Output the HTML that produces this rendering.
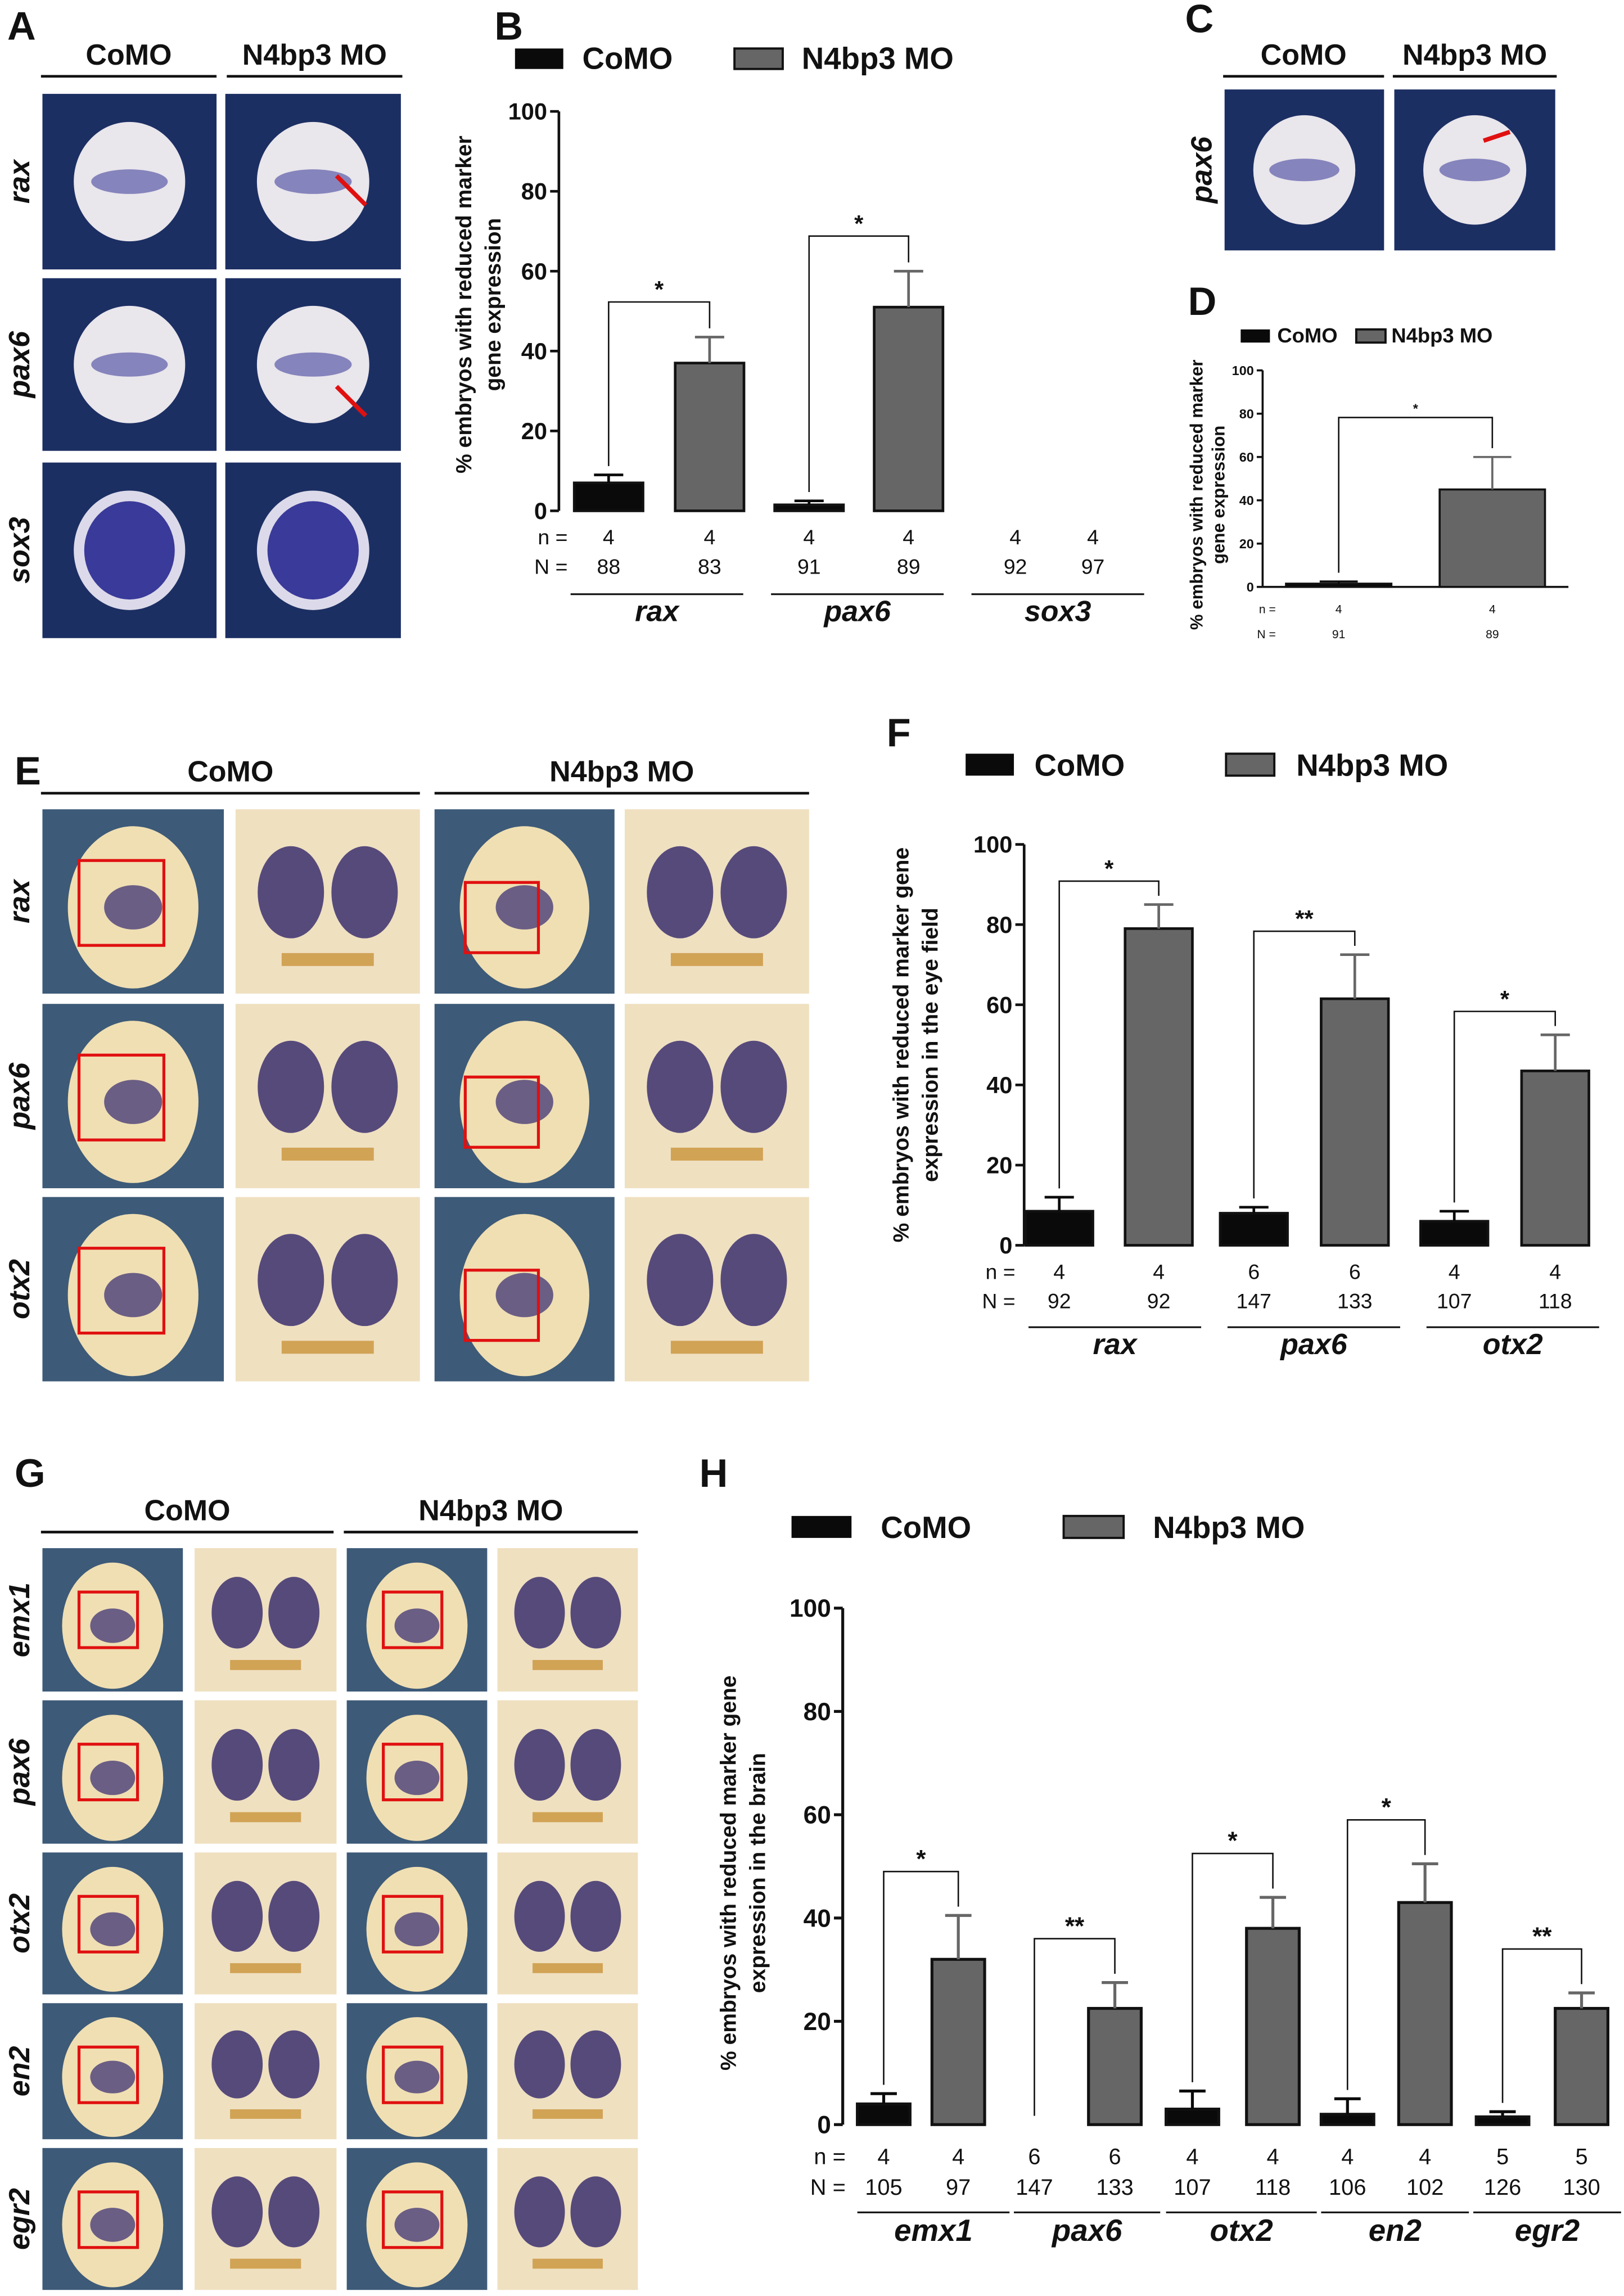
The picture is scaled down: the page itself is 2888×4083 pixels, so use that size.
<!DOCTYPE html>
<html><head><meta charset="utf-8"><style>
html,body{margin:0;padding:0;background:#fff;}
svg{display:block;font-family:"Liberation Sans",Arial,sans-serif;}
</style></head><body>
<svg id="fig" width="2888" height="4083" viewBox="0 0 1110 1569" xmlns="http://www.w3.org/2000/svg">
<rect x="0" y="0" width="1110" height="1569" fill="#fff"/>
</svg>
<script>
// ---------- Chart B data ----------
const bCats = ['rax','pax6','sox3'];
const bComo = [7, 1.5, 0];
const bComoErr = [9, 2.5, 0];
const bN4 = [37, 51, 0];
const bN4Err = [43.5, 60, 0];
const bSmallN = ['4','4','4','4','4','4'];
const bBigN = ['88','83','91','89','92','97'];
const bSig = ['*','*',''];
// ---------- Chart D data ----------
const dCats = ['pax6'];
const dComo = [1.5];
const dComoErr = [2.5];
const dN4 = [45];
const dN4Err = [60];
const dSmallN = ['4','4'];
const dBigN = ['91','89'];
const dSig = ['*'];
// ---------- Chart F data ----------
const fCats = ['rax','pax6','otx2'];
const fComo = [8.5, 8, 6];
const fComoErr = [12, 9.5, 8.5];
const fN4 = [79, 61.5, 43.5];
const fN4Err = [85, 72.5, 52.5];
const fSmallN = ['4','4','6','6','4','4'];
const fBigN = ['92','92','147','133','107','118'];
const fSig = ['*','**','*'];
// ---------- Chart H data ----------
const hCats = ['emx1','pax6','otx2','en2','egr2'];
const hComo = [4, 0, 3, 2, 1.5];
const hComoErr = [6, 0, 6.5, 5, 2.5];
const hN4 = [32, 22.5, 38, 43, 22.5];
const hN4Err = [40.5, 27.5, 44, 50.5, 25.5];
const hSmallN = ['4','4','6','6','4','4','4','4','5','5'];
const hBigN = ['105','97','147','133','107','118','106','102','126','130'];
const hSig = ['*','**','*','*','**'];
const yTicks = ['0','20','40','60','80','100'];

const NS='http://www.w3.org/2000/svg';
const svg=document.getElementById('fig');
function mk(tag,attrs,parent,text){
  const e=document.createElementNS(NS,tag);
  for(const k in attrs)e.setAttribute(k,attrs[k]);
  if(text!==undefined)e.textContent=text;
  (parent||svg).appendChild(e);return e;
}
function txt(x,y,s,size,opts,parent){
  opts=opts||{};
  const e=mk('text',{x:x,y:y,'font-size':size,'font-weight':opts.w||'bold','text-anchor':opts.a||'middle','font-style':opts.i?'italic':'normal',fill:opts.f||'#111'},parent,s);
  if(opts.rot)e.setAttribute('transform','rotate(-90 '+x+' '+y+')');
  
  
  return e;
}
function line(x1,y1,x2,y2,w,c,parent,name){
  const e=mk('line',{x1:x1,y1:y1,x2:x2,y2:y2,stroke:c||'#111','stroke-width':w||1.5},parent);
  
  
  return e;
}

function chart(cfg){
  const g=mk('g',{});
  
  
  const y=v=>cfg.y0-(v/100)*(cfg.y0-cfg.y100);
  line(cfg.ax,cfg.y100,cfg.ax,cfg.y0,cfg.lw,'#111',g,'y-axis');
  if(cfg.xEnd)line(cfg.ax,cfg.y0,cfg.xEnd,cfg.y0,cfg.lw,'#111',g,'x-axis');
  yTicks.forEach(t=>{
    const yy=y(+t);
    line(cfg.ax-cfg.tl,yy,cfg.ax,yy,cfg.lw,'#111',g,'y-tick');
    txt(cfg.ax-cfg.tl-2,yy+cfg.fs*0.35,t,cfg.fs,{a:'end',name:'y-tick-label'},g);
  });
  cfg.cats.forEach((c,i)=>{
    const c1=cfg.centers[2*i],c2=cfg.centers[2*i+1];
    [[c1,cfg.como[i],cfg.comoErr[i],'#0a0a0a','bar-como-'+c],[c2,cfg.n4[i],cfg.n4Err[i],'#666','bar-n4bp3-'+c]].forEach(b=>{
      if(b[1]>0){
        const r=mk('rect',{x:b[0]-cfg.bw/2,y:y(b[1]),width:cfg.bw,height:cfg.y0-y(b[1]),fill:b[3],stroke:'#111','stroke-width':cfg.lw},g);
        
        
        if(b[2]>b[1]){
          line(b[0],y(b[1]),b[0],y(b[2]),cfg.lw,b[3],g,'error-bar');
          line(b[0]-cfg.cap,y(b[2]),b[0]+cfg.cap,y(b[2]),cfg.lw,b[3],g,'error-cap');
        }
      }
    });
    if(cfg.sig[i]){
      const top=Math.max(cfg.comoErr[i],cfg.n4Err[i]);
      const by=y(top)-cfg.sigGap;
      const p=mk('polyline',{points:c1+','+(y(Math.max(cfg.comoErr[i],cfg.como[i]))-6)+' '+c1+','+by+' '+c2+','+by+' '+c2+','+(y(cfg.n4Err[i])-6),fill:'none',stroke:'#111','stroke-width':1},g);
      
      
      txt((c1+c2)/2,by-3,cfg.sig[i],cfg.fs,{name:'significance-star'},g);
    }
    if(cfg.groups[i]){
      line(cfg.groups[i][0],cfg.gy,cfg.groups[i][1],cfg.gy,1.2,'#111',g,'group-line');
      txt((cfg.groups[i][0]+cfg.groups[i][1])/2,cfg.gy+cfg.fs*1.15,c,cfg.fs+4,{i:true,name:'group-label'},g);
    }
  });
  txt(cfg.nx,cfg.ny,'n =',cfg.fs*0.9,{a:'end',w:'normal',name:'n-label'},g);
  txt(cfg.nx,cfg.Ny,'N =',cfg.fs*0.9,{a:'end',w:'normal',name:'N-label'},g);
  cfg.centers.forEach((c,i)=>{
    txt(c,cfg.ny,cfg.smallN[i],cfg.fs*0.9,{w:'normal',name:'n-value'},g);
    txt(c,cfg.Ny,cfg.bigN[i],cfg.fs*0.9,{w:'normal',name:'N-value'},g);
  });
  txt(cfg.tx1,cfg.ty,cfg.t1,cfg.tfs,{rot:true,name:'y-axis-title'},g);
  if(cfg.t2)txt(cfg.tx2,cfg.ty,cfg.t2,cfg.tfs,{rot:true,name:'y-axis-title'},g);
  const L=cfg.leg;
  const r1=mk('rect',{x:L[0],y:L[1],width:L[2],height:L[3],fill:'#0a0a0a'},g);
  
  
  txt(L[4],L[1]+L[3],'CoMO',cfg.lfs,{a:'start',name:'legend-como'},g);
  const r2=mk('rect',{x:L[5],y:L[1],width:L[2],height:L[3],fill:'#666',stroke:'#111','stroke-width':1.5},g);
  
  
  txt(L[6],L[1]+L[3],'N4bp3 MO',cfg.lfs,{a:'start',name:'legend-n4bp3'},g);
}

chart({name:'chart-b',cats:bCats,como:bComo,comoErr:bComoErr,n4:bN4,n4Err:bN4Err,smallN:bSmallN,bigN:bBigN,sig:bSig,
 ax:382,y0:349,y100:76,tl:6,lw:1.8,fs:16,bw:47,cap:10,sigGap:24,centers:[416,485,553,621,694,747],
 groups:[[390,508],[527,645],[664,782]],gy:406,nx:388,ny:372,Ny:392,
 tx1:322,tx2:342,ty:208,t1:'% embryos with reduced marker',t2:'gene expression',tfs:15,leg:[352,33,33,14,398,502,548],lfs:21});
chart({name:'chart-d',cats:dCats,como:dComo,comoErr:dComoErr,n4:dN4,n4Err:dN4Err,smallN:dSmallN,bigN:dBigN,sig:dSig,
 ax:863,y0:401,y100:253,tl:4,lw:1.4,fs:9,bw:72,cap:13,sigGap:27,centers:[915,1020],xEnd:1072,
 groups:[],gy:0,nx:872,ny:419,Ny:436,
 tx1:822,tx2:837,ty:338,t1:'% embryos with reduced marker',t2:'gene expression',tfs:12,leg:[848,225,20,9,873,927,951],lfs:14});
chart({name:'chart-f',cats:fCats,como:fComo,comoErr:fComoErr,n4:fN4,n4Err:fN4Err,smallN:fSmallN,bigN:fBigN,sig:fSig,
 ax:700,y0:851,y100:577,tl:6,lw:1.8,fs:16,bw:46,cap:10,sigGap:16,centers:[724,792,857,926,994,1063],
 groups:[[703,821],[839,957],[975,1093]],gy:907,nx:694,ny:874,Ny:894,
 tx1:621,tx2:641,ty:714,t1:'% embryos with reduced marker gene',t2:'expression in the eye field',tfs:15,leg:[660,515,33,15,707,838,886],lfs:21});
chart({name:'chart-h',cats:hCats,como:hComo,comoErr:hComoErr,n4:hN4,n4Err:hN4Err,smallN:hSmallN,bigN:hBigN,sig:hSig,
 ax:576,y0:1452,y100:1099,tl:6,lw:2,fs:17,bw:36,cap:9,sigGap:30,centers:[604,655,707,762,815,870,921,974,1027,1081],
 groups:[[586,690],[693,793],[797,900],[903,1004],[1007,1108]],gy:1512,nx:578,ny:1479,Ny:1500,
 tx1:503,tx2:523,ty:1280,t1:'% embryos with reduced marker gene',t2:'expression in the brain',tfs:15,leg:[541,1036,41,15,602,727,788],lfs:21});

[['A',5,27],['B',338,27],['C',810,22],['D',812,215],['E',10,536],['F',606,510],['G',10,1016],['H',478,1016]].forEach(p=>{
  txt(p[1],p[2],p[0],27,{a:'start',name:'panel-label-'+p[0].toLowerCase()});
});
function header(x1,x2,y,s,size){
  txt((x1+x2)/2,y-8,s,size,{name:'column-header'});
  line(x1,y,x2,y,1.8,'#111',svg,'header-underline');
}
header(28,148,52,'CoMO',20);header(155,275,52,'N4bp3 MO',20);
header(836,946,52,'CoMO',20);header(952,1064,52,'N4bp3 MO',20);
header(28,287,542,'CoMO',20);header(297,553,542,'N4bp3 MO',20);
header(28,228,1047,'CoMO',20);header(235,436,1047,'N4bp3 MO',20);

function rowLabel(x,y,s){txt(x,y,s,20,{rot:true,i:true,name:'row-label-'+s});}
function photo(x,y,w,h,kind,name){
  const g=mk('g',{});
  
  
  const cx=x+w/2,cy=y+h/2;
  if(kind==='dark'){
    mk('rect',{x:x,y:y,width:w,height:h,fill:'#1c2f63'},g);
    mk('ellipse',{cx:cx,cy:cy,rx:w*0.32,ry:h*0.34,fill:'#e9e6ec'},g);
    mk('ellipse',{cx:cx,cy:cy,rx:w*0.22,ry:h*0.07,fill:'#6d6bb0',opacity:0.8},g);
  }else if(kind==='dark-sox'){
    mk('rect',{x:x,y:y,width:w,height:h,fill:'#1c2f63'},g);
    mk('ellipse',{cx:cx,cy:cy,rx:w*0.32,ry:h*0.34,fill:'#dcdaea'},g);
    mk('ellipse',{cx:cx,cy:cy,rx:w*0.26,ry:h*0.28,fill:'#3a3a9a'},g);
  }else if(kind==='blue'){
    mk('rect',{x:x,y:y,width:w,height:h,fill:'#3d5a78'},g);
    mk('ellipse',{cx:cx,cy:cy+4,rx:w*0.36,ry:h*0.44,fill:'#f0dfb3'},g);
    mk('ellipse',{cx:cx,cy:cy+4,rx:w*0.16,ry:h*0.12,fill:'#4a3d78',opacity:0.8},g);
  }else{
    mk('rect',{x:x,y:y,width:w,height:h,fill:'#efe0c0'},g);
    mk('ellipse',{cx:cx-w*0.2,cy:cy-h*0.05,rx:w*0.18,ry:h*0.25,fill:'#3b2f6e',opacity:0.85},g);
    mk('ellipse',{cx:cx+w*0.2,cy:cy-h*0.05,rx:w*0.18,ry:h*0.25,fill:'#3b2f6e',opacity:0.85},g);
    mk('rect',{x:cx-w*0.25,y:y+h*0.78,width:w*0.5,height:h*0.07,fill:'#c9943a',opacity:0.8},g);
  }
}
const aRows=[[64,184,'rax'],[190,308,'pax6'],[316,436,'sox3']];
aRows.forEach(r=>{
  const k=r[2]==='sox3'?'dark-sox':'dark';
  photo(29,r[0],119,r[1]-r[0],k,'photo-a-como-'+r[2]);
  photo(154,r[0],120,r[1]-r[0],k,'photo-a-n4bp3-'+r[2]);
  rowLabel(20,(r[0]+r[1])/2,r[2]);
});
photo(837,61,109,110,'dark','photo-c-como-pax6');
photo(953,61,110,110,'dark','photo-c-n4bp3-pax6');
rowLabel(828,116,'pax6');
[[250,140,230,120],[250,284,230,264],[1032,90,1014,96]].forEach(a=>{
  line(a[0],a[1],a[2],a[3],3,'#e01010',svg,'red-arrow');
});
const eRows=[[553,679,'rax'],[686,812,'pax6'],[818,944,'otx2']];
eRows.forEach(r=>{
  const h=r[1]-r[0];
  photo(29,r[0],124,h,'blue','photo-e-como-'+r[2]);
  photo(161,r[0],126,h,'cream','photo-e-como-zoom-'+r[2]);
  photo(297,r[0],123,h,'blue','photo-e-n4bp3-'+r[2]);
  photo(427,r[0],126,h,'cream','photo-e-n4bp3-zoom-'+r[2]);
  rowLabel(20,(r[0]+r[1])/2,r[2]);
  [[54,r[0]+35,58,58],[318,r[0]+50,50,48]].forEach(b=>{
    const s=mk('rect',{x:b[0],y:b[1],width:b[2],height:b[3],fill:'none',stroke:'#e01010','stroke-width':2});
    
    
  });
});
const gRows=[[1058,1156,'emx1'],[1162,1260,'pax6'],[1266,1363,'otx2'],[1369,1462,'en2'],[1468,1565,'egr2']];
gRows.forEach(r=>{
  const h=r[1]-r[0];
  photo(29,r[0],96,h,'blue','photo-g-como-'+r[2]);
  photo(133,r[0],97,h,'cream','photo-g-como-zoom-'+r[2]);
  photo(237,r[0],96,h,'blue','photo-g-n4bp3-'+r[2]);
  photo(340,r[0],96,h,'cream','photo-g-n4bp3-zoom-'+r[2]);
  rowLabel(20,(r[0]+r[1])/2,r[2]);
  [[54,r[0]+30,40,38],[262,r[0]+30,40,38]].forEach(b=>{
    const s=mk('rect',{x:b[0],y:b[1],width:b[2],height:b[3],fill:'none',stroke:'#e01010','stroke-width':2});
    
    
  });
});
</script>
</body></html>
